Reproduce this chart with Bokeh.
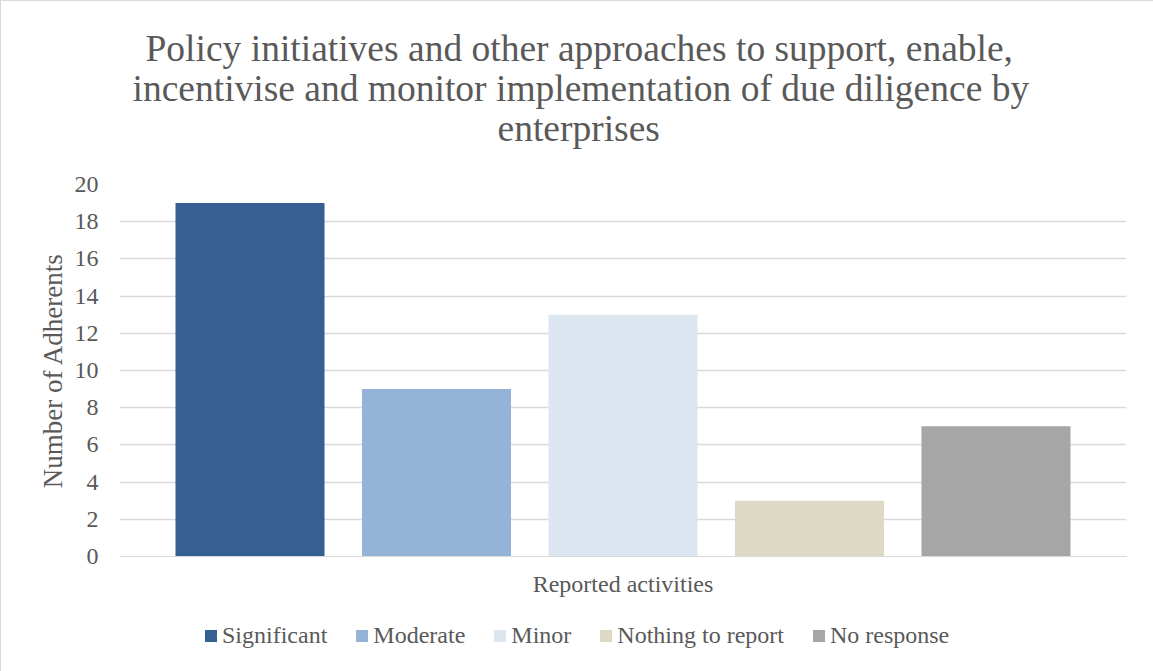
from bokeh.plotting import figure
from bokeh.layouts import column
from bokeh.models import ColumnDataSource, FactorRange, Range1d, Legend, LegendItem, SingleIntervalTicker, Title
from bokeh.transform import dodge
from bokeh.embed import file_html
from bokeh.resources import INLINE

title_lines = ["Policy initiatives and other approaches to support, enable,",
               "incentivise and monitor implementation of due diligence by",
               "enterprises"]
group = ["Reported activities"]
series = ["Significant", "Moderate", "Minor", "Nothing to report", "No response"]
values = [19, 9, 13, 3, 7]
colors = ["#376092", "#95B3D7", "#DCE6F1", "#DDD9C4", "#A6A6A6"]
offsets = [-0.3704, -0.1852, 0.0, 0.1852, 0.3704]
title_offsets = [26, 13, 378]

FONT = "Liberation Serif"
GREY = "#595959"

p = figure(frame_width=1007, frame_height=372, x_range=FactorRange(factors=group, range_padding=0),
           y_range=Range1d(0, 20), output_backend="svg", toolbar_location=None,
           min_border_left=118, min_border_right=28, min_border_top=183, min_border_bottom=45)
p.title = None

# spacer nearest the frame, then the three title lines (outermost added last)
p.add_layout(Title(text=" ", text_font=FONT, text_font_size="30px", standoff=2), "above")
for line, off in reversed(list(zip(title_lines, title_offsets))):
    p.add_layout(Title(text=line, align="left", offset=off, text_font=FONT,
                       text_font_size="37.5px", text_font_style="normal",
                       text_color=GREY, standoff=-3), "above")

for s, v, c, o in zip(series, values, colors, offsets):
    src = ColumnDataSource(dict(x=group, top=[v]))
    p.vbar(x=dodge("x", o, range=p.x_range), top="top", width=0.148, source=src,
           fill_color=c, line_color=None)

p.yaxis.ticker = SingleIntervalTicker(interval=2)
p.yaxis.axis_line_color = None
p.yaxis.major_tick_line_color = None
p.yaxis.minor_tick_line_color = None
p.yaxis.major_label_standoff = 15
p.yaxis.major_label_text_font = FONT
p.yaxis.major_label_text_font_size = "24px"
p.yaxis.major_label_text_color = GREY
p.yaxis.axis_label = "Number of Adherents"
p.yaxis.axis_label_text_font = FONT
p.yaxis.axis_label_text_font_size = "27px"
p.yaxis.axis_label_text_font_style = "normal"
p.yaxis.axis_label_text_color = GREY
p.yaxis.axis_label_standoff = 4

p.xaxis.axis_line_color = "#d9d9d9"
p.xaxis.major_tick_line_color = None
p.xaxis.minor_tick_line_color = None
p.xaxis.major_label_standoff = 8
p.xaxis.major_label_text_font = FONT
p.xaxis.major_label_text_font_size = "24px"
p.xaxis.major_label_text_color = GREY

p.xgrid.grid_line_color = None
p.ygrid.grid_line_color = "#d9d9d9"
p.ygrid.grid_line_width = 1.5
p.outline_line_color = None

# legend strip below the chart (its dummy bars sit outside the visible range)
lf = figure(width=1153, height=71, x_range=Range1d(0, 1), y_range=Range1d(0, 1),
            x_axis_type=None, y_axis_type=None, output_backend="svg", toolbar_location=None,
            min_border=0)
lf.title = None
lf.xgrid.grid_line_color = None
lf.ygrid.grid_line_color = None
lf.outline_line_color = None
items = []
for s, c in zip(series, colors):
    r = lf.vbar(x=[-10], top=[-10], width=0.1, fill_color=c, line_color=None)
    items.append(LegendItem(label=s, renderers=[r]))
legend = Legend(items=items, orientation="horizontal", location=(84, 23),
                label_text_font=FONT, label_text_font_size="24px", label_text_color=GREY,
                glyph_width=15, glyph_height=15, label_standoff=4, spacing=27,
                border_line_color=None, background_fill_alpha=0, margin=0, padding=0)
lf.add_layout(legend, "center")

layout = column(p, lf, spacing=0)
layout.styles = {"border": "1px solid #d9d9d9", "box-sizing": "border-box"}
open("out.html", "w").write(file_html(layout, INLINE))
